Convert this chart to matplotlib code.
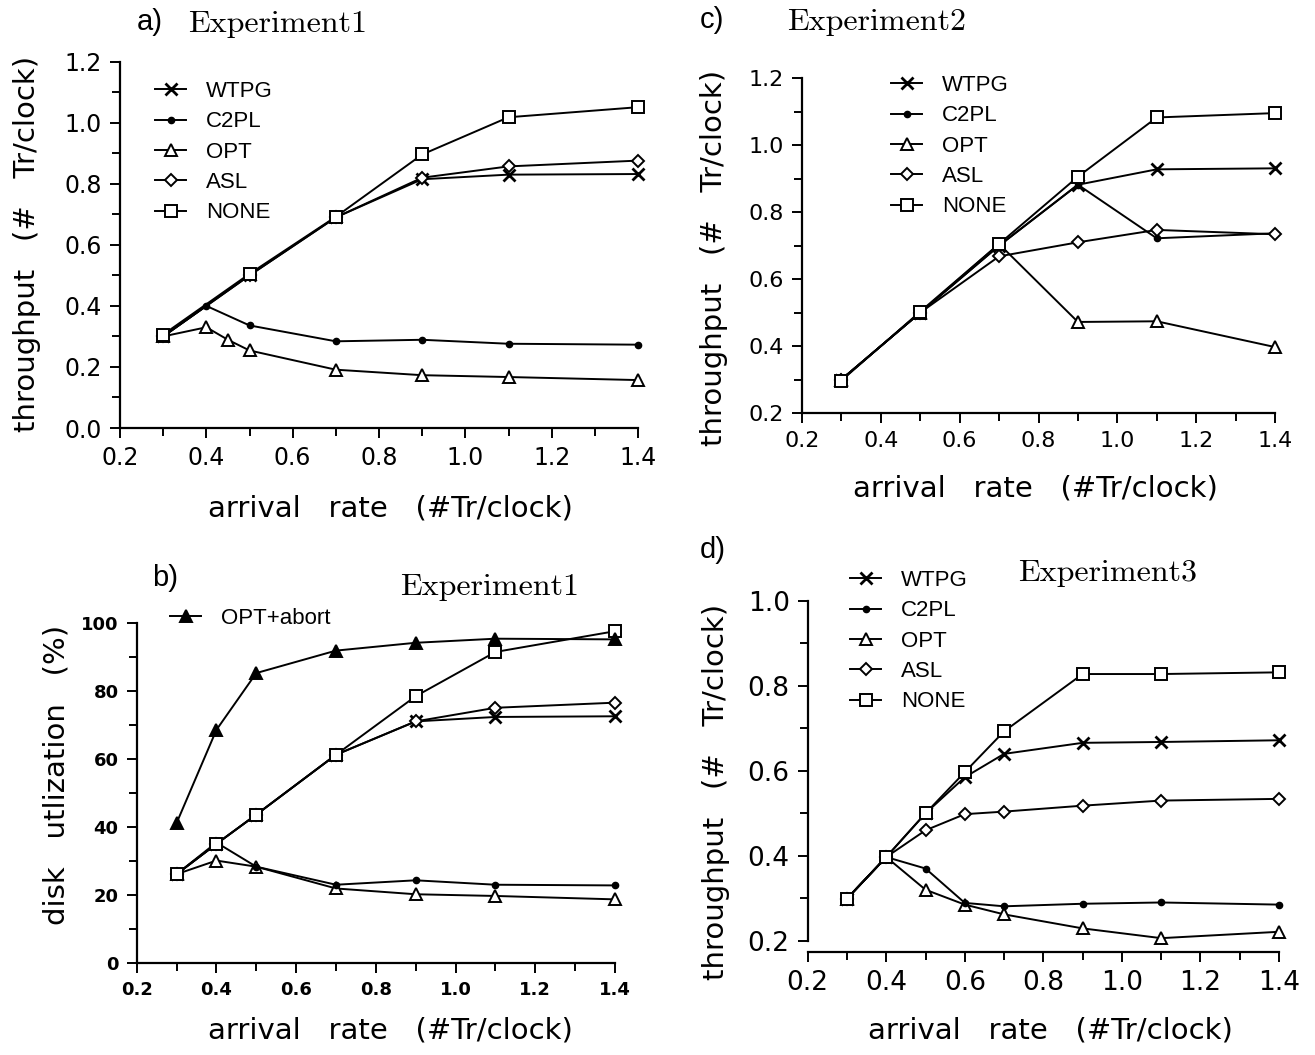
import matplotlib
matplotlib.use("Agg")
import matplotlib.pyplot as plt
from matplotlib.ticker import MultipleLocator, FormatStrFormatter
from matplotlib.lines import Line2D

W, H = 1315, 1055

# ---------------- data ----------------
# Panel a) Experiment1 throughput
a_x_main = [0.3, 0.5, 0.7, 0.9, 1.1, 1.4]
a_wtpg = [0.30, 0.50, 0.69, 0.815, 0.83, 0.832]
a_asl = [0.30, 0.50, 0.69, 0.82, 0.857, 0.876]
a_none = [0.306, 0.505, 0.692, 0.896, 1.018, 1.051]
a_c2pl_x = [0.3, 0.4, 0.5, 0.7, 0.9, 1.1, 1.4]
a_c2pl = [0.30, 0.40, 0.336, 0.284, 0.289, 0.276, 0.273]
a_opt_x = [0.3, 0.4, 0.45, 0.5, 0.7, 0.9, 1.1, 1.4]
a_opt = [0.30, 0.33, 0.289, 0.254, 0.191, 0.173, 0.167, 0.157]

# Panel c) Experiment2 throughput
c_x = [0.3, 0.5, 0.7, 0.9, 1.1, 1.4]
c_wtpg = [0.30, 0.50, 0.70, 0.882, 0.928, 0.931]
c_c2pl = [0.30, 0.50, 0.70, 0.882, 0.722, 0.737]
c_opt = [0.30, 0.50, 0.705, 0.472, 0.474, 0.397]
c_asl = [0.30, 0.50, 0.668, 0.71, 0.747, 0.734]
c_none = [0.297, 0.503, 0.705, 0.906, 1.083, 1.096]

# Panel b) Experiment1 disk utilization (%)
b_x = [0.3, 0.4, 0.5, 0.7, 0.9, 1.1, 1.4]
b_optabort = [41.1, 68.5, 85.2, 91.8, 94.1, 95.3, 95.1]
b_none = [26.1, 35.0, 43.6, 61.2, 78.4, 91.4, 97.5]
b_wtpg = [26.1, 35.0, 43.6, 61.2, 71.0, 72.3, 72.5]
b_asl = [26.1, 35.0, 43.6, 61.2, 71.0, 75.0, 76.5]
b_c2pl = [26.1, 35.4, 28.3, 23.0, 24.3, 23.0, 22.8]
b_opt = [26.1, 30.1, 28.3, 21.9, 20.2, 19.7, 18.7]

# Panel d) Experiment3 throughput
d_x = [0.3, 0.4, 0.5, 0.6, 0.7, 0.9, 1.1, 1.4]
d_none = [0.299, 0.397, 0.50, 0.597, 0.693, 0.828, 0.828, 0.832]
d_wtpg = [0.299, 0.397, 0.50, 0.585, 0.64, 0.666, 0.668, 0.672]
d_asl = [0.299, 0.397, 0.46, 0.498, 0.504, 0.518, 0.53, 0.534]
d_c2pl = [0.299, 0.397, 0.37, 0.289, 0.281, 0.287, 0.29, 0.285]
d_opt = [0.299, 0.397, 0.32, 0.285, 0.262, 0.229, 0.206, 0.221]

legend_names = ["WTPG", "C2PL", "OPT", "ASL", "NONE"]

# ---------------- styles ----------------
SANS = "Liberation Sans"
WIDE = "DejaVu Sans"
SERIF = "cmr10"
LW = 1.4
sty = {
    "WTPG": dict(marker="x", ms=8, mew=2.0, mfc="black"),
    "C2PL": dict(marker="o", ms=4.5, mfc="black"),
    "OPT": dict(marker="^", ms=8, mfc="white", mew=1.4),
    "ASL": dict(marker="D", ms=6, mfc="white", mew=1.4),
    "NONE": dict(marker="s", ms=9, mfc="white", mew=1.4),
    "OPT+abort": dict(marker="^", ms=8, mfc="black", mew=1.4),
}

fig = plt.figure(figsize=(W / 100, H / 100), dpi=100)


def px_axes(left, right, top, bottom):
    return fig.add_axes([left / W, 1 - bottom / H, (right - left) / W, (bottom - top) / H])


def style_axes(ax, ylo, yhi, ymaj, ymin, yfmt, fs, weight="normal"):
    ax.set_xlim(0.2, 1.4)
    ax.set_ylim(ylo, yhi)
    for s in ("top", "right"):
        ax.spines[s].set_visible(False)
    for s in ("left", "bottom"):
        ax.spines[s].set_linewidth(1.6)
    ax.xaxis.set_major_locator(MultipleLocator(0.2))
    ax.xaxis.set_minor_locator(MultipleLocator(0.1))
    ax.yaxis.set_major_locator(MultipleLocator(ymaj))
    ax.yaxis.set_minor_locator(MultipleLocator(ymin))
    ax.xaxis.set_major_formatter(FormatStrFormatter("%.1f"))
    ax.yaxis.set_major_formatter(FormatStrFormatter(yfmt))
    ax.tick_params(which="major", length=7, width=1.4, labelsize=fs, pad=6)
    ax.tick_params(which="minor", length=6, width=1.4)
    for lab in ax.get_xticklabels() + ax.get_yticklabels():
        lab.set_fontfamily(WIDE)
        lab.set_fontweight(weight)
    ax.patch.set_alpha(0)


def ln(ax, x, y, name, z=2):
    ax.plot(x, y, color="black", lw=LW, mec="black", zorder=z, clip_on=False, **sty[name])


def leg(ax, names, x, y, fs):
    handles = [Line2D([], [], color="black", lw=LW, mec="black", **sty[n]) for n in names]
    ax.legend(handles, names, loc="upper left", bbox_to_anchor=(x / W, 1 - y / H),
              bbox_transform=fig.transFigure, frameon=False, handlelength=1.4,
              handletextpad=0.9, labelspacing=0.42, borderpad=0, borderaxespad=0,
              prop={"family": SANS, "size": fs})


def ftext(x, y, s, **kw):
    kw.setdefault("va", "center")
    kw.setdefault("ha", "center")
    fig.text(x / W, 1 - y / H, s, **kw)


# ---------------- panel a ----------------
axa = px_axes(120, 638, 61.7, 428)
style_axes(axa, 0.0, 1.2, 0.2, 0.1, "%.1f", 17)
ln(axa, a_opt_x, a_opt, "OPT")
ln(axa, a_c2pl_x, a_c2pl, "C2PL")
ln(axa, a_x_main, a_wtpg, "WTPG")
ln(axa, a_x_main, a_asl, "ASL")
ln(axa, a_x_main, a_none, "NONE", z=3)
leg(axa, legend_names, 155, 81, 16)

# ---------------- panel c ----------------
axc = px_axes(802, 1275, 78.3, 413)
style_axes(axc, 0.2, 1.2, 0.2, 0.1, "%.1f", 16)
ln(axc, c_x, c_opt, "OPT")
ln(axc, c_x, c_c2pl, "C2PL")
ln(axc, c_x, c_asl, "ASL")
ln(axc, c_x, c_wtpg, "WTPG")
ln(axc, c_x, c_none, "NONE", z=3)
leg(axc, legend_names, 891, 75, 16)

# ---------------- panel b ----------------
axb = px_axes(136.7, 615, 622.7, 963)
style_axes(axb, 0, 100, 20, 10, "%d", 13, weight="bold")
ln(axb, b_x, b_opt, "OPT")
ln(axb, b_x, b_c2pl, "C2PL")
ln(axb, b_x, b_wtpg, "WTPG")
ln(axb, b_x, b_asl, "ASL")
ln(axb, b_x, b_none, "NONE", z=3)
ln(axb, b_x, b_optabort, "OPT+abort", z=4)
leg(axb, ["OPT+abort"], 170, 608, 16)

# ---------------- panel d ----------------
axd = px_axes(807.7, 1279, 601, 940.7)
style_axes(axd, 0.2, 1.0, 0.2, 0.1, "%.1f", 19)
axd.spines["bottom"].set_position(("outward", 8))
ln(axd, d_x, d_opt, "OPT")
ln(axd, d_x, d_c2pl, "C2PL")
ln(axd, d_x, d_asl, "ASL")
ln(axd, d_x, d_wtpg, "WTPG")
ln(axd, d_x, d_none, "NONE", z=3)
leg(axd, legend_names, 850, 570, 16)

# ---------------- texts ----------------
TF = 23
ftext(150, 22, "a)", family=SANS, fontsize=21)
ftext(278, 24, "Experiment1", family=SERIF, fontsize=TF)
ftext(712, 20, "c)", family=SANS, fontsize=21)
ftext(877, 22, "Experiment2", family=SERIF, fontsize=TF)
ftext(165, 578, "b)", family=SANS, fontsize=21)
ftext(490, 587, "Experiment1", family=SERIF, fontsize=TF)
ftext(713, 550, "d)", family=SANS, fontsize=21)
ftext(1108, 573, "Experiment3", family=SERIF, fontsize=TF)

LF = 21
ylab = "throughput   (#   Tr/clock)"
ftext(27, 244, ylab, family=WIDE, fontsize=LF, rotation=90)
ftext(714, 258, ylab, family=WIDE, fontsize=LF, rotation=90)
ftext(57, 775, "disk   utlization   (%)", family=WIDE, fontsize=LF, rotation=90)
ftext(716, 792, ylab, family=WIDE, fontsize=LF, rotation=90)

xlab = "arrival   rate   (#Tr/clock)"
ftext(390, 508, xlab, family=WIDE, fontsize=LF)
ftext(1035, 488, xlab, family=WIDE, fontsize=LF)
ftext(390, 1030, xlab, family=WIDE, fontsize=LF)
ftext(1050, 1030, xlab, family=WIDE, fontsize=LF)

fig.savefig("out.png", dpi=100)
